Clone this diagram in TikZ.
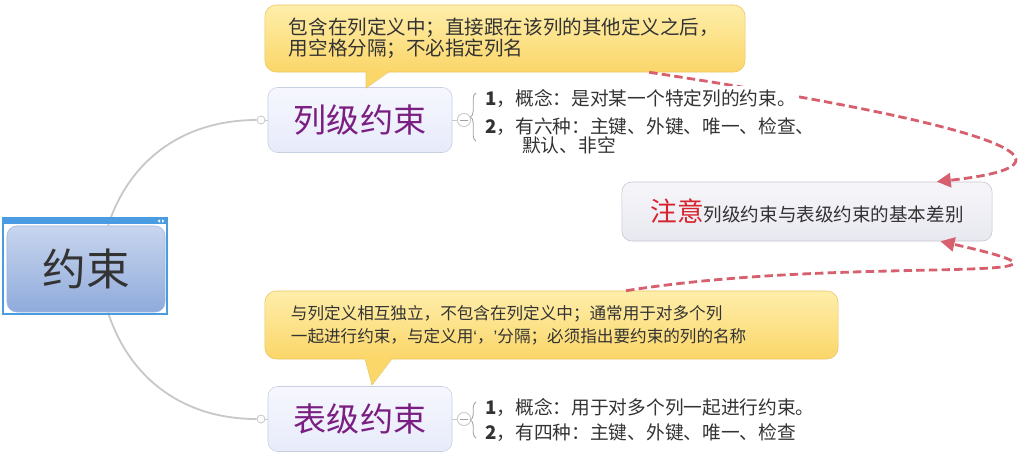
\documentclass[tikz,border=0pt]{standalone}
\usepackage{fontspec}
\setmainfont{Noto Sans CJK SC}
\newfontfamily\quotefont{Liberation Sans}
\usetikzlibrary{arrows.meta,calc,decorations.pathreplacing}

\definecolor{roottop}{RGB}{200,213,238}
\definecolor{rootbot}{RGB}{143,171,219}
\definecolor{rootedge}{RGB}{160,182,224}
\definecolor{framebl}{RGB}{74,156,226}
\definecolor{leveltop}{RGB}{246,247,254}
\definecolor{levelbot}{RGB}{231,235,250}
\definecolor{leveledge}{RGB}{200,206,225}
\definecolor{levelink}{RGB}{122,30,130}
\definecolor{tiptop}{RGB}{254,238,170}
\definecolor{tipbot}{RGB}{251,214,105}
\definecolor{tipedge}{RGB}{232,198,100}
\definecolor{notetop}{RGB}{246,246,250}
\definecolor{notebot}{RGB}{232,232,240}
\definecolor{noteedge}{RGB}{196,196,206}
\definecolor{notered}{RGB}{215,35,45}
\definecolor{arrowred}{RGB}{214,96,110}
\definecolor{branchgray}{RGB}{200,200,200}
\definecolor{bracegray}{RGB}{160,160,160}
\definecolor{inkdark}{RGB}{51,51,51}

\begin{document}
\begin{tikzpicture}[x=0.025cm, y=0.025cm,
    every node/.style={inner sep=0pt},
    rootbox/.style={rounded corners=7pt, draw=rootedge, top color=roottop, bottom color=rootbot,
        minimum width=3.95cm, minimum height=2.15cm, text=inkdark,
        font=\fontsize{31pt}{31pt}\selectfont},
    levelbox/.style={rounded corners=7pt, draw=leveledge, top color=leveltop, bottom color=levelbot,
        minimum width=4.6cm, minimum height=1.625cm, text=levelink,
        font=\fontsize{23.5pt}{23.5pt}\selectfont},
    tipbox/.style={rounded corners=8pt, draw=tipedge, top color=tiptop, bottom color=tipbot,
        align=left, text=inkdark},
    notebox/.style={rounded corners=7pt, draw=noteedge, top color=notetop, bottom color=notebot,
        minimum width=9.25cm, minimum height=1.475cm, text=inkdark},
    knob/.style={circle, draw=branchgray, fill=white, minimum size=0.2cm, line width=0.6pt},
    minusknob/.style={circle, draw=branchgray, fill=white, minimum size=0.33cm, line width=0.6pt},
    branch/.style={draw=branchgray, line width=1.3pt},
    item/.style={anchor=west, inner ysep=2pt, text=inkdark, font=\fontsize{13.3pt}{13.3pt}\selectfont},
    notearrow/.style={draw=arrowred, line width=2pt, dash pattern=on 6pt off 3pt,
        -{Triangle[length=10pt,width=10pt]}},
    bracket/.style={draw=bracegray, line width=0.6pt, decorate, decoration={brace, amplitude=4pt}}
]
    \useasboundingbox (0,0) rectangle (1024,-455);

    % Root
    \node[rootbox] (root) at (86,-269) {约束};
    \node[knob] (colknob) at (261,-120) {};
    \node[knob] (tabknob) at (261,-419) {};
    \draw[branch] ([xshift=0.55cm]root.north) to[out=72,in=180] (colknob);
    \draw[branch] ([xshift=0.55cm]root.south) to[out=-72,in=180] (tabknob);
    \draw[framebl, line width=1.3pt] (3,-218) rectangle (167,-314);
    \fill[framebl] (3,-218) rectangle (167,-224);
    \fill[white] (157.5,-221) -- (160,-219.4) -- (160,-222.6) -- cycle;
    \fill[white] (164.5,-221) -- (162,-219.4) -- (162,-222.6) -- cycle;

    % Column level
    \node[levelbox] (colnode) at (360,-120) {列级约束};
    \draw[branch, line width=0.6pt] (colknob) -- (colnode);
    \node[minusknob] (colminus) at (464,-120) {};
    \draw[branch, line width=0.6pt] (colnode.east) -- (colminus);
    \draw[bracegray, line width=0.7pt] ([xshift=-2.5pt]colminus.center) -- ([xshift=2.5pt]colminus.center);
    \draw[bracket] (476,-141) -- (476,-93);

    % Table level
    \node[levelbox] (tabnode) at (360,-419) {表级约束};
    \draw[branch, line width=0.6pt] (tabknob) -- (tabnode);
    \node[minusknob] (tabminus) at (464,-419) {};
    \draw[branch, line width=0.6pt] (tabnode.east) -- (tabminus);
    \draw[bracegray, line width=0.7pt] ([xshift=-2.5pt]tabminus.center) -- ([xshift=2.5pt]tabminus.center);
    \draw[bracket] (476,-438) -- (476,-402);

    % Callouts
    \node[tipbox, inner xsep=0.6cm, text width=10.8cm, minimum height=1.675cm,
        font=\fontsize{13.9pt}{15pt}\selectfont] (colnote) at (505,-38.5)
        {包含在列定义中；直接跟在该列的其他定义之后，\\用空格分隔；不必指定列名};
    \fill[tipbot] (366,-71) -- (366,-88) -- (389,-71) -- cycle;
    \draw[tipedge] (366,-72) -- (366,-88) -- (389,-72);

    \node[tipbox, inner xsep=0.65cm, text width=13.025cm, minimum height=1.7cm,
        font=\fontsize{11.8pt}{16.4pt}\selectfont] (tabnote) at (551.5,-325)
        {与列定义相互独立，不包含在列定义中；通常用于对多个列\\一起进行约束，与定义用{\quotefont‘}，{\quotefont’}分隔；必须指出要约束的列的名称};
    \fill[tipbot] (365,-358) -- (372,-385) -- (392,-358) -- cycle;
    \draw[tipedge] (365,-359) -- (372,-385) -- (392,-359);

    % Note
    \node[notebox] (diffnote) at (807,-211.5)
        {{\color{notered}\fontsize{19pt}{19pt}\selectfont 注意}{\fontsize{13.2pt}{13.2pt}\selectfont 列级约束与表级约束的基本差别}};

    \draw[notearrow] ($(colnote.south west)!0.8!(colnote.south east)$)
        .. controls +(362,-55) and +(155,17) .. ($(diffnote.north west)!0.85!(diffnote.north east)$);
    \draw[notearrow] ($(tabnote.north west)!0.63!(tabnote.north east)$)
        .. controls +(225,36) and +(200,-45) .. ($(diffnote.south west)!0.86!(diffnote.south east)$);

    % Items
    \node[item, fill=white] (colitem1) at (485,-98) {\textbf{1}，概念：是对某一个特定列的约束。};
    \node[item] (colitem2) at (485,-127) {\textbf{2}，有六种：主键、外键、唯一、检查、};
    \node[item] (colitem3) at (522,-145) {默认、非空};
    \node[item] (tabitem1) at (485,-407) {\textbf{1}，概念：用于对多个列一起进行约束。};
    \node[item] (tabitem2) at (485,-433) {\textbf{2}，有四种：主键、外键、唯一、检查};
\end{tikzpicture}
\end{document}
